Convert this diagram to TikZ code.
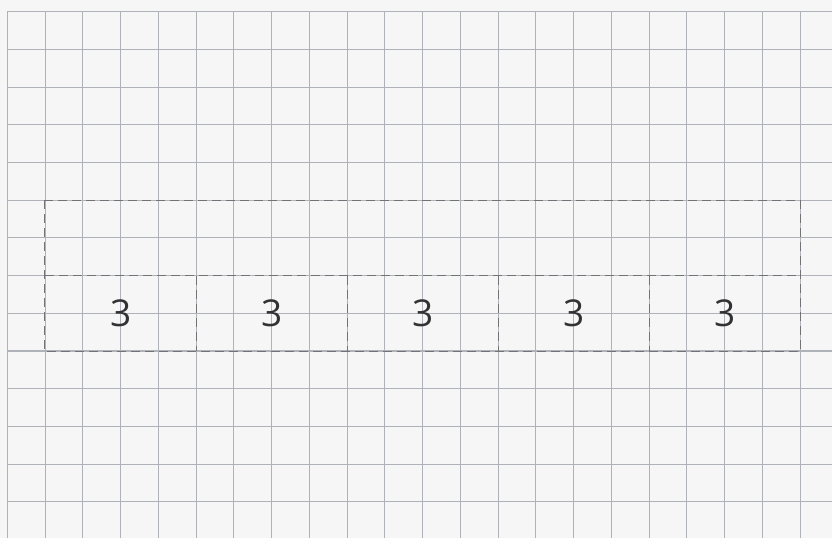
\documentclass[tikz,border=0pt]{standalone}
\usepackage{fontspec}
\setmainfont{Open Sans}
\definecolor{paper}{RGB}{247,246,247}
\definecolor{gridc}{RGB}{176,178,186}
\definecolor{dashc}{RGB}{115,115,118}
\definecolor{digit}{RGB}{50,50,52}
\begin{document}
\begin{tikzpicture}[x=1pt,y=-1pt,
  gridline/.style={draw=gridc,line width=1.1pt},
  dashline/.style={draw=dashc,line width=0.9pt,dash pattern=on 9pt off 5pt},
  cell/.style={minimum width=151pt,minimum height=75.4pt,inner sep=0pt,
    font=\fontsize{37}{40}\selectfont,text=digit},
  band/.style={minimum width=755pt,minimum height=75.4pt,inner sep=0pt}]
\useasboundingbox (0,0) rectangle (832,538);
\fill[paper] (0,0) rectangle (832,538);
% grid
\foreach \k in {0,...,21}{
  \draw[gridline] ({7.3+37.75*\k},11.7) -- ({7.3+37.75*\k},538);
}
\foreach \k in {0,...,13}{
  \draw[gridline] (7.3,{11.7+37.7*\k}) -- (832,{11.7+37.7*\k});
}
% dashed figure
\node[band] (top) at (422.2,238) {};
\node[cell] (c1) at (120.6,313.5) {3};
\node[cell] (c2) at (271.6,313.5) {3};
\node[cell] (c3) at (422.6,313.5) {3};
\node[cell] (c4) at (573.6,313.5) {3};
\node[cell] (c5) at (724.6,313.5) {3};
\draw[dashline] (top.north west) rectangle (c5.south east);
\draw[dashline] (top.south west) -- (top.south east);
\foreach \n in {c1,c2,c3,c4}{
  \draw[dashline] (\n.north east) -- (\n.south east);
}
\end{tikzpicture}
\end{document}
